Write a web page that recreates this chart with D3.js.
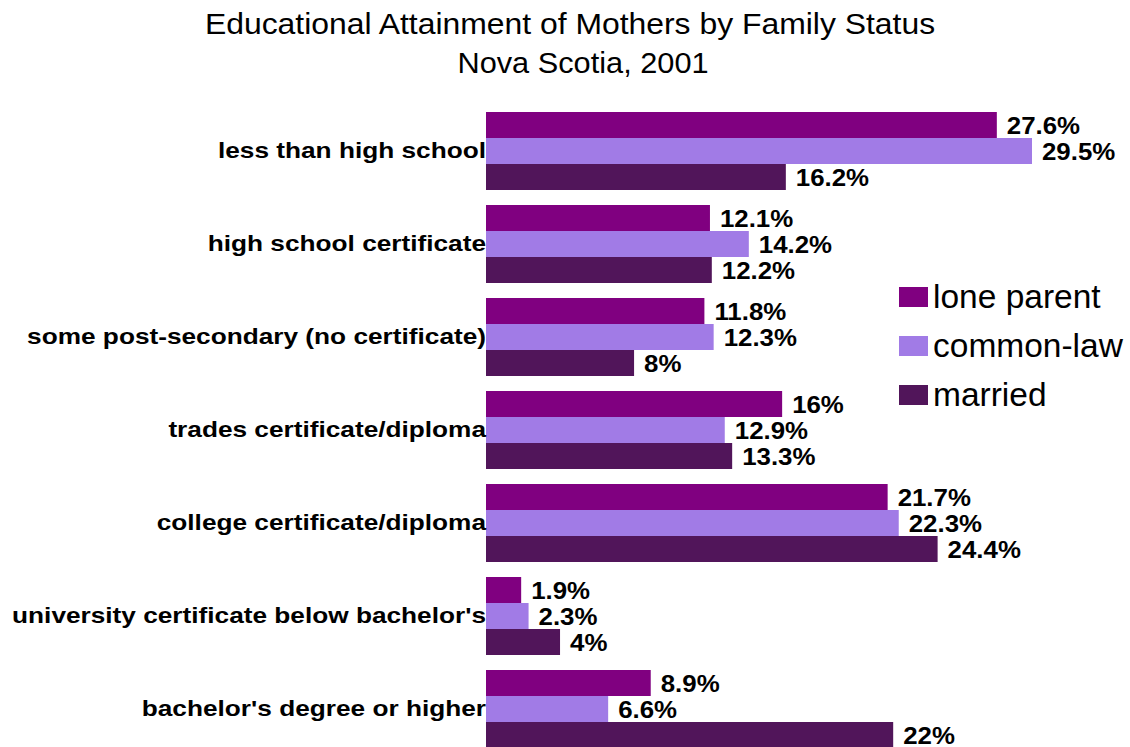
<!DOCTYPE html>
<html>
<head>
<meta charset="utf-8">
<script src="https://cdn.jsdelivr.net/npm/d3@7"></script>
<style>
  html, body { margin: 0; padding: 0; background: #fff; }
  svg { display: block; font-family: "Liberation Sans", Arial, sans-serif; }
</style>
</head>
<body>
<svg id="chart" width="1130" height="747"></svg>
<script>
const categories = [
  "less than high school",
  "high school certificate",
  "some post-secondary (no certificate)",
  "trades certificate/diploma",
  "college certificate/diploma",
  "university certificate below bachelor's",
  "bachelor's degree or higher"
];
const seriesNames = ["lone parent", "common-law", "married"];
const loneParent = [27.6, 12.1, 11.8, 16, 21.7, 1.9, 8.9];
const commonLaw  = [29.5, 14.2, 12.3, 12.9, 22.3, 2.3, 6.6];
const married    = [16.2, 12.2, 8, 13.3, 24.4, 4, 22];
const colors = ["#800080", "#a17be6", "#51155a"];

const seriesValues = [loneParent, commonLaw, married];
const svg = d3.select("#chart");

// Plot frame
const x0 = 486, groupTop = 112, groupStep = 93;
const x = d3.scaleLinear().domain([0, 29.5]).range([x0, 1032]);
const y = d3.scaleBand().domain(categories)
  .range([groupTop - 7.5, groupTop - 7.5 + groupStep * categories.length])
  .paddingInner(15 / 93).paddingOuter(7.5 / 93);
const ySub = d3.scaleBand().domain(seriesNames).range([0, y.bandwidth()]);

// Title (wide lettering); the second line carries a trailing gap
svg.append("text")
  .attr("transform", "translate(570,34) scale(1.1,1)")
  .attr("text-anchor", "middle").attr("font-size", 29).attr("fill", "#000")
  .text("Educational Attainment of Mothers by Family Status");
svg.append("text")
  .attr("transform", "translate(583,73) scale(1.06,1)")
  .attr("text-anchor", "middle").attr("font-size", 29).attr("fill", "#000")
  .text("Nova Scotia, 2001");

// Bars
const groups = svg.append("g").selectAll("g").data(categories).join("g")
  .attr("transform", d => `translate(0,${y(d)})`);

seriesNames.forEach((s, si) => {
  groups.append("rect")
    .attr("x", x(0))
    .attr("y", ySub(s))
    .attr("width", (d, i) => x(seriesValues[si][i]) - x(0))
    .attr("height", ySub.bandwidth())
    .attr("fill", colors[si]);
});

// Category labels
groups.append("text")
  .attr("transform", `translate(486,${y.bandwidth() / 2 + 6.5}) scale(1.22,1)`)
  .attr("text-anchor", "end")
  .attr("font-size", 21.5)
  .attr("font-weight", "bold")
  .attr("fill", "#000")
  .text(d => d);

// Value labels
seriesNames.forEach((s, si) => {
  groups.append("text")
    .attr("transform", (d, i) =>
      `translate(${x(seriesValues[si][i]) + 10},${ySub(s) + ySub.bandwidth() / 2 + 8.5}) scale(1.1,1)`)
    .attr("font-size", 23.5)
    .attr("font-weight", "bold")
    .attr("fill", "#000")
    .text((d, i) => seriesValues[si][i] + "%");
});

// Legend
const legend = svg.append("g").selectAll("g").data(seriesNames).join("g")
  .attr("transform", (d, i) => `translate(899,${287 + i * 49})`);
legend.append("rect").attr("width", 29).attr("height", 20).attr("fill", (d, i) => colors[i]);
legend.append("text").attr("x", 34).attr("y", 21)
  .attr("font-size", 33.5).attr("fill", "#000").text(d => d);
</script>
</body>
</html>
